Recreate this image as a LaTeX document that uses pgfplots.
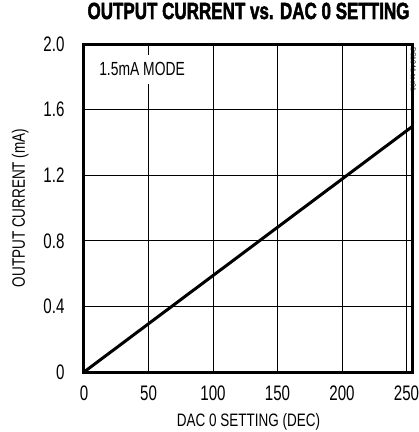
\documentclass[border=0pt]{standalone}
\usepackage{pgfplots}
\pgfplotsset{compat=1.18}
\usepackage{fontspec}
\setmainfont{Liberation Sans}
\newfontfamily\titlefont{Liberation Sans Bold}[FakeBold=2.5]

\begin{document}
\begin{tikzpicture}[x=1pt,y=1pt]
\path[use as bounding box] (-84,-60) rectangle (335,372);
\begin{axis}[
  at={(0,0)}, anchor=south west,
  scale only axis,
  width=329pt, height=328pt,
  xmin=0, xmax=255,
  ymin=0, ymax=2,
  xtick={0,50,100,150,200,250},
  ytick={0,0.4,0.8,1.2,1.6,2.0},
  yticklabels={0,0.4,0.8,1.2,1.6,2.0},
  xticklabels={0,50,100,150,200,250},
  major tick length=0pt,
  grid=major,
  major grid style={black, line width=0.8pt},
  axis line style={black, line width=3pt},
  tick label style={font=\fontsize{21}{21}\selectfont, inner sep=0pt, xscale=0.72},
  yticklabel style={anchor=east, xshift=-27pt},
  xticklabel style={anchor=north, yshift=-14pt},
  xlabel={DAC 0 SETTING (DEC)},
  ylabel={OUTPUT CURRENT (mA)},
  label style={font=\fontsize{18}{18}\selectfont, inner sep=0pt},
  xlabel style={at={(axis description cs:0.5,0)}, anchor=base, yshift=-54pt, xscale=0.75},
  ylabel style={at={(axis description cs:0,0.5)}, anchor=base, yshift=59pt, xscale=0.75},
  title={\titlefont\fontsize{23.3}{23.3}\selectfont OUTPUT CURRENT vs. DAC 0 SETTING},
  title style={at={(axis description cs:0.5,1)}, anchor=base, inner sep=0pt, yshift=19pt, xscale=0.73},
  clip=false,
]
\addplot[black, line width=3pt] coordinates {(0,0) (255,1.5)};
\node[anchor=base west, fill=white, inner xsep=2pt, inner ysep=8pt, xscale=0.73,
  font=\fontsize{19}{19}\selectfont]
  at (axis cs:10.6,1.806) {1.5mA MODE};
\node[rotate=-90, anchor=north west, inner sep=0pt, font=\fontsize{7}{7}\selectfont]
  at ([xshift=3pt,yshift=-3pt]rel axis cs:1,1) {DS1841 toc01};
\end{axis}
\end{tikzpicture}
\end{document}
